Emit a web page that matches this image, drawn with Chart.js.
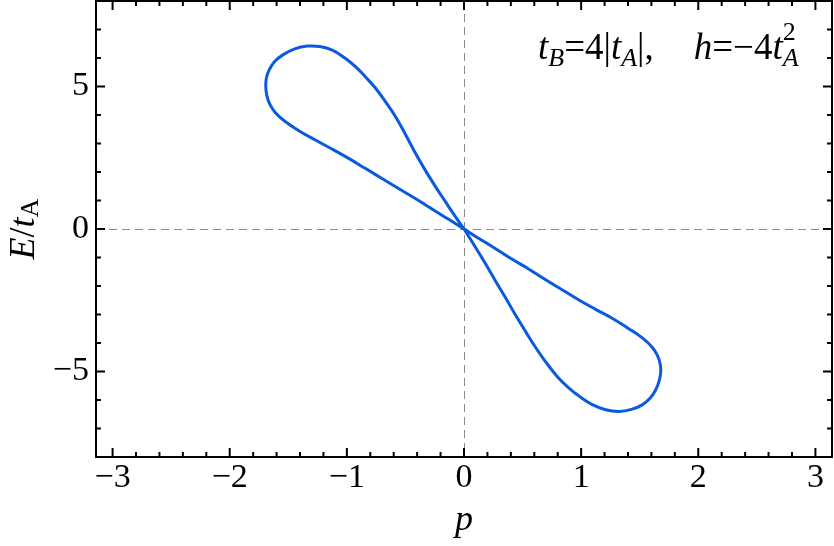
<!DOCTYPE html>
<html>
<head>
<meta charset="utf-8">
<script src="https://cdn.jsdelivr.net/npm/chart.js@4.4.1/dist/chart.umd.min.js"></script>
<style>
html,body{margin:0;padding:0;background:#fff;}
#wrap{width:834px;height:546px;}
</style>
</head>
<body>
<div id="wrap"><canvas id="c" width="834" height="546"></canvas></div>
<script>
// ---- data ----
const curveP = [0, -0.100, -0.156, -0.241, -0.327, -0.412, -0.497, -0.583, -0.668, -0.753, -0.840, -0.924, -1.020, -1.124, -1.230, -1.337, -1.450, -1.550, -1.620, -1.664, -1.688, -1.692, -1.683, -1.657, -1.612, -1.535, -1.410, -1.265, -1.120, -0.981, -0.840, -0.697, -0.555, -0.412, -0.300, -0.185, -0.090, 0, 0.090, 0.185, 0.300, 0.412, 0.555, 0.697, 0.840, 0.981, 1.120, 1.265, 1.400, 1.525, 1.605, 1.652, 1.674, 1.680, 1.666, 1.636, 1.590, 1.521, 1.430, 1.323, 1.210, 1.095, 0.995, 0.896, 0.797, 0.697, 0.610, 0.526, 0.440, 0.356, 0.270, 0.185, 0.095, 0];
const curveE = [0, 0.591, 0.942, 1.470, 2.040, 2.640, 3.300, 3.931, 4.450, 4.930, 5.330, 5.689, 6.010, 6.276, 6.400, 6.417, 6.310, 6.101, 5.860, 5.573, 5.280, 4.986, 4.680, 4.370, 4.090, 3.800, 3.450, 3.112, 2.790, 2.468, 2.120, 1.765, 1.410, 1.062, 0.770, 0.475, 0.235, 0, -0.235, -0.475, -0.770, -1.062, -1.410, -1.780, -2.140, -2.490, -2.810, -3.130, -3.480, -3.830, -4.140, -4.440, -4.720, -4.990, -5.330, -5.650, -5.930, -6.170, -6.330, -6.400, -6.340, -6.160, -5.900, -5.580, -5.180, -4.660, -4.150, -3.600, -3.020, -2.420, -1.830, -1.230, -0.620, 0];
const xTickValues = [-3, -2, -1, 0, 1, 2, 3];
const yTickValues = [-5, 0, 5];
const xRange = [-Math.PI, Math.PI];
const yRange = [-8, 8];
const xMinorStep = 0.2;
const yMinorStep = 1;

const points = curveP.map((p, i) => ({x: p, y: curveE[i]}));

const SERIF = '"Liberation Serif", "DejaVu Serif", serif';
const fmt = v => (v < 0 ? '\u2212' + Math.abs(v) : String(v));

function drawRich(ctx, x, y, parts) {
  let cx = x;
  for (const p of parts) {
    ctx.font = p.f;
    if (p.t) ctx.fillText(p.t, cx, y + (p.dy || 0));
    if (!p.noAdvance) cx += (p.w !== undefined ? p.w : ctx.measureText(p.t).width);
  }
  return cx - x;
}
function richWidth(ctx, parts) {
  let w = 0;
  for (const p of parts) {
    ctx.font = p.f;
    if (!p.noAdvance) w += (p.w !== undefined ? p.w : ctx.measureText(p.t).width);
  }
  return w;
}

const framePlugin = {
  id: 'framePlugin',
  beforeDatasetsDraw(chart) {
    const {ctx, chartArea: a, scales: {x, y}} = chart;
    ctx.save();
    ctx.strokeStyle = '#8a8a8a';
    ctx.lineWidth = 1;
    ctx.setLineDash([8, 5]);
    const x0 = Math.round(x.getPixelForValue(0)) + 0.5;
    const y0 = Math.round(y.getPixelForValue(0)) + 0.5;
    ctx.beginPath();
    ctx.moveTo(x0, a.top); ctx.lineTo(x0, a.bottom);
    ctx.moveTo(a.left, y0); ctx.lineTo(a.right, y0);
    ctx.stroke();
    ctx.restore();
  },
  afterDraw(chart) {
    const {ctx, chartArea: a, scales: {x, y}} = chart;
    ctx.save();
    ctx.strokeStyle = '#000';
    ctx.lineWidth = 2;
    ctx.setLineDash([]);
    ctx.strokeRect(a.left, a.top, a.right - a.left, a.bottom - a.top);
    const majL = 9, minL = 5;
    ctx.beginPath();
    const xs = [];
    for (let v = Math.ceil(xRange[0] / xMinorStep) * xMinorStep; v <= xRange[1] + 1e-9; v += xMinorStep) {
      const vv = Math.round(v * 10) / 10;
      xs.push([vv, xTickValues.some(t => Math.abs(t - vv) < 1e-6)]);
    }
    xs.forEach(([v, major]) => {
      const px = x.getPixelForValue(v);
      const L = major ? majL : minL;
      ctx.moveTo(px, a.bottom); ctx.lineTo(px, a.bottom - L);
      ctx.moveTo(px, a.top); ctx.lineTo(px, a.top + L);
    });
    const ys = [];
    for (let v = Math.ceil(yRange[0] / yMinorStep) * yMinorStep; v <= yRange[1] + 1e-9; v += yMinorStep) {
      ys.push([v, yTickValues.includes(v)]);
    }
    ys.forEach(([v, major]) => {
      if (v <= yRange[0] || v >= yRange[1]) return;
      const py = y.getPixelForValue(v);
      const L = major ? majL : minL;
      ctx.moveTo(a.left, py); ctx.lineTo(a.left + L, py);
      ctx.moveTo(a.right, py); ctx.lineTo(a.right - L, py);
    });
    ctx.stroke();

    ctx.fillStyle = '#000';
    ctx.textBaseline = 'alphabetic';
    ctx.textAlign = 'left';
    const itBig = 'italic 36px ' + SERIF;
    ctx.font = itBig;
    const pw = ctx.measureText('p').width;
    ctx.fillText('p', x.getPixelForValue(0) - pw / 2, 530);

    const yParts = [
      {t: 'E', f: itBig},
      {t: '/', f: '36px ' + SERIF},
      {t: 't', f: itBig},
      {t: 'A', f: '26px ' + SERIF, dy: 4}
    ];
    const yw = richWidth(ctx, yParts);
    ctx.save();
    ctx.translate(34, (a.top + a.bottom) / 2 + yw / 2);
    ctx.rotate(-Math.PI / 2);
    drawRich(ctx, 0, 0, yParts);
    ctx.restore();

    const big = 'italic 37px ' + SERIF;
    const reg = '37px ' + SERIF;
    const sub = 'italic 26px ' + SERIF;
    const ann = [
      {t: 't', f: big},
      {t: 'B', f: sub, dy: 7},
      {t: '=4|', f: reg},
      {t: 't', f: big},
      {t: 'A', f: sub, dy: 7},
      {t: '|,', f: reg},
      {t: '', f: reg, w: 40},
      {t: 'h', f: big},
      {t: '=\u22124', f: reg},
      {t: 't', f: big},
      {t: '2', f: '26px ' + SERIF, dy: -19, noAdvance: true},
      {t: 'A', f: sub, dy: 7}
    ];
    drawRich(ctx, 538, 59, ann);
    ctx.restore();
  }
};

new Chart(document.getElementById('c'), {
  type: 'scatter',
  data: {
    datasets: [{
      data: points,
      showLine: true,
      borderColor: '#0a5ae0',
      borderWidth: 3,
      pointRadius: 0,
      pointHoverRadius: 0,
      fill: false,
      tension: 0.4
    }]
  },
  options: {
    responsive: false,
    animation: false,
    devicePixelRatio: 1,
    layout: {padding: {top: 1, right: 2, left: 0, bottom: 0}},
    plugins: {legend: {display: false}, tooltip: {enabled: false}},
    scales: {
      x: {
        type: 'linear',
        min: xRange[0], max: xRange[1],
        afterBuildTicks: s => { s.ticks = xTickValues.map(v => ({value: v})); },
        afterFit: s => { s.height = 89; s.paddingLeft = 0; s.paddingRight = 0; },
        grid: {display: false, drawTicks: false},
        border: {display: false},
        ticks: {
          autoSkip: false, maxRotation: 0, padding: 1,
          color: '#000',
          font: {family: SERIF, size: 34},
          callback: v => fmt(v)
        }
      },
      y: {
        type: 'linear',
        min: yRange[0], max: yRange[1],
        afterBuildTicks: s => { s.ticks = yTickValues.map(v => ({value: v})); },
        afterFit: s => { s.width = 96; s.paddingTop = 0; s.paddingBottom = 0; },
        grid: {display: false, drawTicks: false},
        border: {display: false},
        ticks: {
          autoSkip: false, padding: 7,
          color: '#000',
          font: {family: SERIF, size: 34},
          callback: v => fmt(v)
        }
      }
    }
  },
  plugins: [framePlugin]
});
</script>
</body>
</html>
